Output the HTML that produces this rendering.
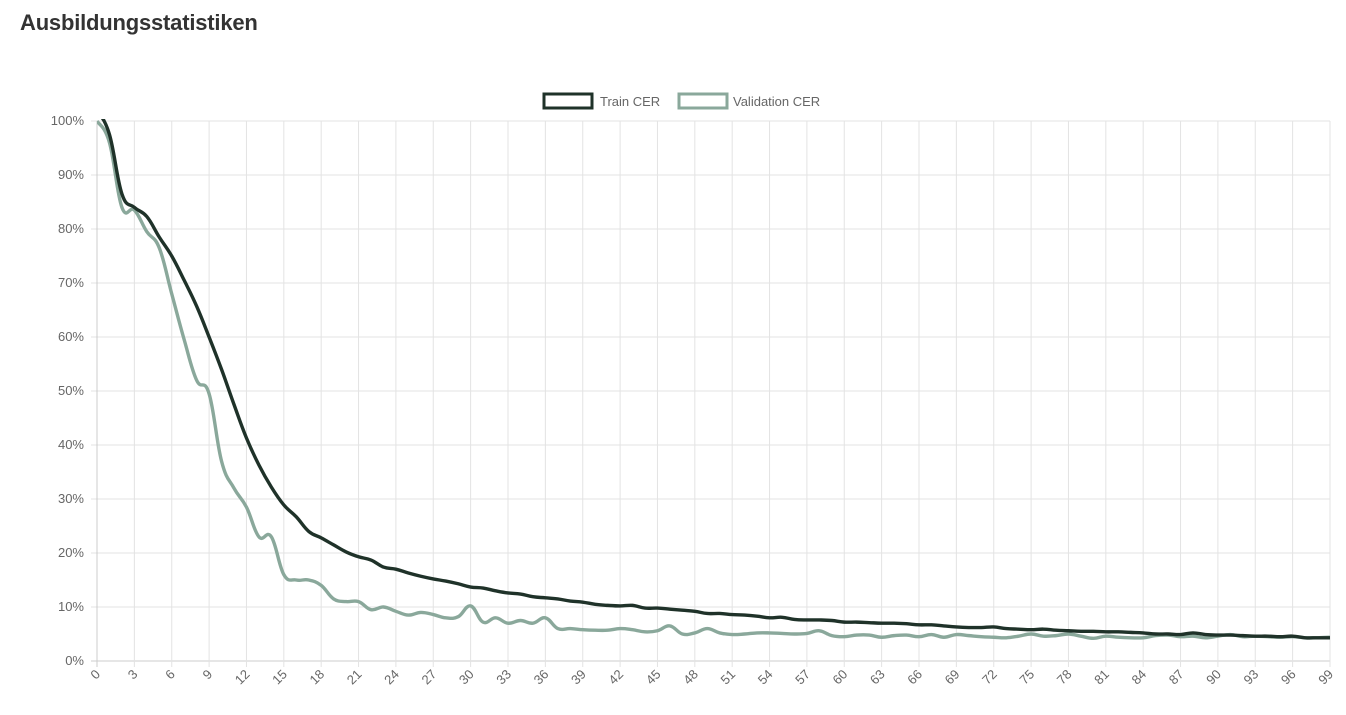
<!DOCTYPE html>
<html><head><meta charset="utf-8"><style>
body{margin:0;background:#fff;width:1346px;height:715px;overflow:hidden;font-family:"Liberation Sans",sans-serif}
h1{position:absolute;left:20px;top:10px;margin:0;font-size:22px;font-weight:bold;color:#333;font-family:"Liberation Sans",sans-serif;letter-spacing:-0.2px}
</style></head><body>
<h1>Ausbildungsstatistiken</h1>
<svg id="c" width="1346" height="715" style="position:absolute;left:0;top:0"></svg>
<script>
const epochs=[];for(let i=0;i<100;i++)epochs.push(i);
const trainCER=[102,97.5,86.5,84,82.3,78.5,75,70.5,65.7,60,54,47.5,41.3,36.3,32.2,28.9,26.7,24,22.8,21.5,20.2,19.3,18.7,17.4,17,16.3,15.7,15.2,14.8,14.3,13.7,13.5,13,12.6,12.4,11.9,11.7,11.5,11.1,10.9,10.5,10.3,10.2,10.3,9.8,9.8,9.6,9.4,9.2,8.8,8.8,8.6,8.5,8.3,8.0,8.1,7.7,7.6,7.6,7.5,7.2,7.2,7.1,7.0,7.0,6.9,6.7,6.7,6.5,6.3,6.2,6.2,6.3,6.0,5.9,5.8,5.9,5.7,5.6,5.5,5.5,5.4,5.4,5.3,5.2,5.0,5.0,4.9,5.2,4.9,4.8,4.8,4.7,4.6,4.6,4.5,4.6,4.3,4.3,4.3];
const valCER=[100,96,84,83.5,79.5,76.5,68,59.5,52,49.5,37,32,28.5,23,23,16,15,15,14,11.5,11,11,9.5,10,9.2,8.5,9,8.6,8,8.2,10.2,7.2,8,7,7.5,7,8,6,6,5.8,5.7,5.7,6,5.8,5.4,5.6,6.5,5,5.2,6,5.2,4.9,5,5.2,5.2,5.1,5,5.1,5.6,4.7,4.5,4.8,4.8,4.4,4.7,4.8,4.5,4.9,4.4,4.9,4.7,4.5,4.4,4.3,4.6,5,4.6,4.7,5,4.6,4.2,4.6,4.4,4.3,4.3,4.7,4.8,4.5,4.6,4.3,4.6,4.9,4.5,4.6,4.5,4.4,4.5,4.3,4.3,4.4];
const yTicks=[0,10,20,30,40,50,60,70,80,90,100];
const NS="http://www.w3.org/2000/svg",svg=document.getElementById('c');
const L=97,R=1330,T=121,B=661;
const xs=i=>L+(R-L)*i/(epochs.length-1);
const ys=v=>B-(B-T)*v/100;
function el(t,a,p){const e=document.createElementNS(NS,t);for(const k in a)e.setAttribute(k,a[k]);(p||svg).appendChild(e);return e;}
const defs=el('defs',{});const cp=el('clipPath',{id:'cl'},defs);el('rect',{x:L,y:T-2,width:R-L,height:B-T+4},cp);
yTicks.forEach(v=>{const g=el('line',{x1:L-6,x2:R,y1:ys(v),y2:ys(v),stroke:v===0?'#ccc':'#e3e3e3'});

const t=el('text',{x:84,y:ys(v)+4,'text-anchor':'end','font-size':13,fill:'#666'});t.textContent=v+'%';
});
epochs.forEach(i=>{if(i%3)return;const x=xs(i);
const g=el('line',{x1:x,x2:x,y1:T,y2:B+6,stroke:i===0?'#ccc':'#e3e3e3'});

const t=el('text',{x:x+4,y:B+14,'text-anchor':'end','font-size':13,fill:'#666',transform:`rotate(-45 ${x+4} ${B+14})`});t.textContent=i;
});
function path(vals){const p=vals.map((v,i)=>[xs(i),ys(v)]);let d=`M${p[0][0]},${p[0][1]}`;const k=0.4/2;
for(let i=0;i<p.length-1;i++){const p0=p[i-1]||p[i],p1=p[i],p2=p[i+1],p3=p[i+2]||p2;
const c1=[p1[0]+(p2[0]-p0[0])*k,p1[1]+(p2[1]-p0[1])*k],c2=[p2[0]-(p3[0]-p1[0])*k,p2[1]-(p3[1]-p1[1])*k];
d+=`C${c1[0]},${c1[1]} ${c2[0]},${c2[1]} ${p2[0]},${p2[1]}`;}return d;}
const vl=el('path',{d:path(valCER),fill:'none',stroke:'#8aa89b','stroke-width':3.4,'clip-path':'url(#cl)'});

const tl=el('path',{d:path(trainCER),fill:'none',stroke:'#1f3229','stroke-width':3.4,'clip-path':'url(#cl)'});

[[544,'#1f3229','Train CER',600,'legend-train-cer'],[679,'#8aa89b','Validation CER',733,'legend-validation-cer']].forEach(a=>{
const g=el('g',{});
el('rect',{x:a[0],y:94,width:48,height:14,fill:'#fff',stroke:a[1],'stroke-width':3},g);
const t=el('text',{x:a[3],y:106,'font-size':13,fill:'#666'},g);t.textContent=a[2];});
</script>
</body></html>
